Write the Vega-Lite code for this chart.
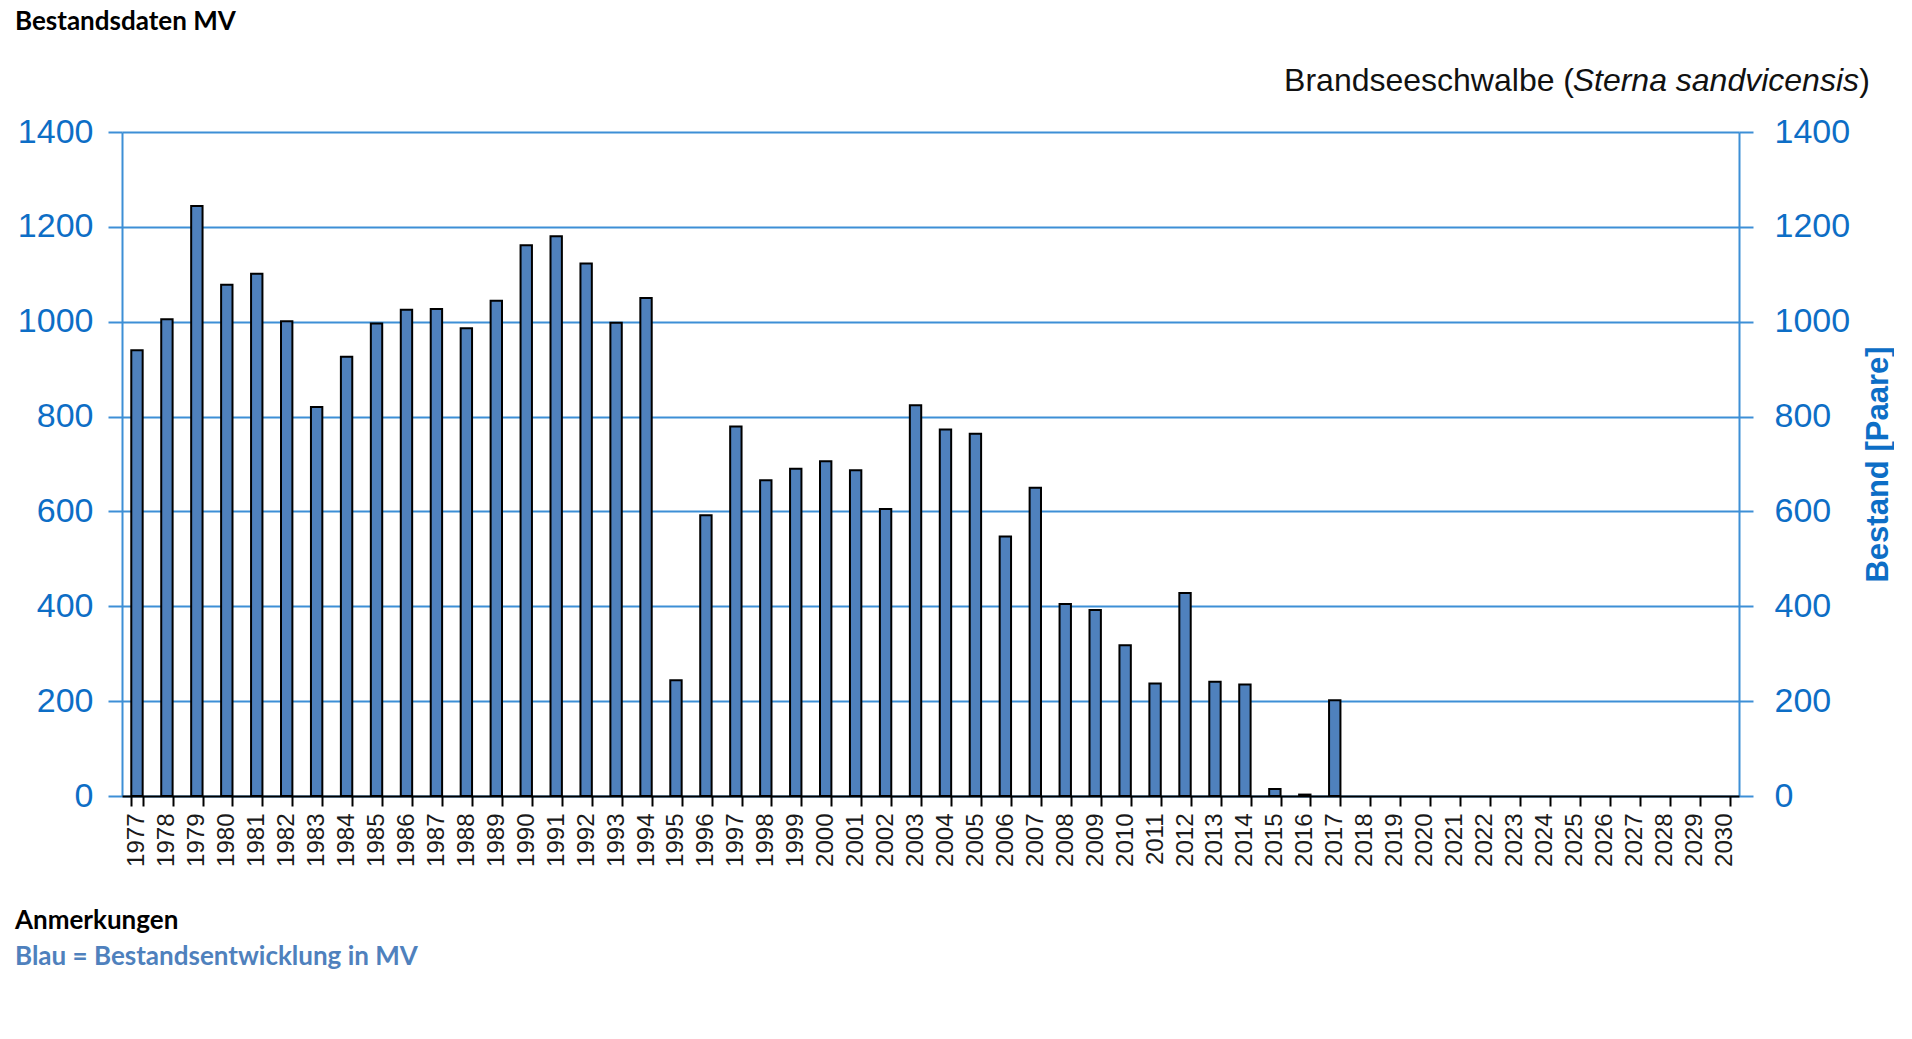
{
  "$schema": "https://vega.github.io/schema/vega-lite/v6.json",
  "background": "white",
  "padding": {"left": 15, "top": 9, "right": 0, "bottom": 0},
  "title": {"text": "Bestandsdaten MV", "anchor": "start", "frame": "bounds", "font": "Lato", "fontSize": 26, "fontWeight": "bold", "color": "#000000", "offset": 30, "dx": 0},
  "config": {"view": {"stroke": null}},
  "spacing": 40,
  "vconcat": [
    {
      "width": 1617,
      "height": 664,
      "data": {"values": [
        {"Jahr": 1977, "Bestand": 940}, {"Jahr": 1978, "Bestand": 1005}, {"Jahr": 1979, "Bestand": 1244},
        {"Jahr": 1980, "Bestand": 1078}, {"Jahr": 1981, "Bestand": 1101}, {"Jahr": 1982, "Bestand": 1001},
        {"Jahr": 1983, "Bestand": 820}, {"Jahr": 1984, "Bestand": 926}, {"Jahr": 1985, "Bestand": 996},
        {"Jahr": 1986, "Bestand": 1025}, {"Jahr": 1987, "Bestand": 1027}, {"Jahr": 1988, "Bestand": 986},
        {"Jahr": 1989, "Bestand": 1044}, {"Jahr": 1990, "Bestand": 1161}, {"Jahr": 1991, "Bestand": 1180},
        {"Jahr": 1992, "Bestand": 1123}, {"Jahr": 1993, "Bestand": 998}, {"Jahr": 1994, "Bestand": 1050},
        {"Jahr": 1995, "Bestand": 244}, {"Jahr": 1996, "Bestand": 592}, {"Jahr": 1997, "Bestand": 779},
        {"Jahr": 1998, "Bestand": 666}, {"Jahr": 1999, "Bestand": 690}, {"Jahr": 2000, "Bestand": 706},
        {"Jahr": 2001, "Bestand": 687}, {"Jahr": 2002, "Bestand": 605}, {"Jahr": 2003, "Bestand": 824},
        {"Jahr": 2004, "Bestand": 773}, {"Jahr": 2005, "Bestand": 764}, {"Jahr": 2006, "Bestand": 547},
        {"Jahr": 2007, "Bestand": 650}, {"Jahr": 2008, "Bestand": 405}, {"Jahr": 2009, "Bestand": 392},
        {"Jahr": 2010, "Bestand": 318}, {"Jahr": 2011, "Bestand": 237}, {"Jahr": 2012, "Bestand": 428},
        {"Jahr": 2013, "Bestand": 241}, {"Jahr": 2014, "Bestand": 235}, {"Jahr": 2015, "Bestand": 15},
        {"Jahr": 2016, "Bestand": 3}, {"Jahr": 2017, "Bestand": 202}
      ]},
      "layer": [
        {
          "layer": [
            {
              "mark": {"type": "bar", "fill": "#4F81BD", "stroke": "#000000", "strokeWidth": 2},
              "encoding": {
                "x": {
                  "field": "Jahr", "type": "ordinal",
                  "scale": {"domain": [1977,1978,1979,1980,1981,1982,1983,1984,1985,1986,1987,1988,1989,1990,1991,1992,1993,1994,1995,1996,1997,1998,1999,2000,2001,2002,2003,2004,2005,2006,2007,2008,2009,2010,2011,2012,2013,2014,2015,2016,2017,2018,2019,2020,2021,2022,2023,2024,2025,2026,2027,2028,2029,2030], "paddingInner": 0.62, "paddingOuter": 0.31},
                  "axis": {"orient": "bottom", "title": null, "labelAngle": -90, "labelFont": "Liberation Sans", "labelFontSize": 24, "labelColor": "#1a1a1a", "labelPadding": 7, "tickBand": "extent", "tickColor": "#000000", "tickSize": 10, "tickWidth": 2, "domainColor": "#000000", "domainWidth": 2, "grid": false, "zindex": 1}
                },
                "y": {
                  "field": "Bestand", "type": "quantitative",
                  "scale": {"domain": [0, 1400], "nice": false},
                  "axis": {"orient": "left", "title": null, "format": "d", "values": [0,200,400,600,800,1000,1200,1400], "grid": true, "gridColor": "#3d8fd6", "gridWidth": 2, "domainColor": "#3d8fd6", "domainWidth": 2, "tickColor": "#3d8fd6", "tickSize": 14, "tickWidth": 2, "labelFont": "Liberation Sans", "labelFontSize": 34, "labelColor": "#0d6ec6", "labelPadding": 15}
                }
              }
            },
            {
              "data": {"values": [{"label": "Brandseeschwalbe ("}]},
              "mark": {"type": "text", "font": "Liberation Sans", "fontSize": 32, "align": "right", "baseline": "middle", "dx": -150, "dy": -51, "color": "#111111"},
              "encoding": {"x": {"datum": 2030, "type": "ordinal"}, "y": {"datum": 1400, "type": "quantitative"}, "text": {"field": "label"}}
            },
            {
              "data": {"values": [{"label": "Sterna sandvicensis"}]},
              "mark": {"type": "text", "font": "Liberation Sans", "fontSize": 32, "fontStyle": "italic", "align": "right", "baseline": "middle", "dx": 135, "dy": -51, "color": "#111111"},
              "encoding": {"x": {"datum": 2030, "type": "ordinal"}, "y": {"datum": 1400, "type": "quantitative"}, "text": {"field": "label"}}
            },
            {
              "data": {"values": [{"label": ")"}]},
              "mark": {"type": "text", "font": "Liberation Sans", "fontSize": 32, "align": "right", "baseline": "middle", "dx": 146, "dy": -51, "color": "#111111"},
              "encoding": {"x": {"datum": 2030, "type": "ordinal"}, "y": {"datum": 1400, "type": "quantitative"}, "text": {"field": "label"}}
            }
          ]
        },
        {
          "mark": {"type": "bar", "opacity": 0},
          "encoding": {
            "x": {"field": "Jahr", "type": "ordinal"},
            "y": {
              "field": "Bestand", "type": "quantitative",
              "scale": {"domain": [0, 1400], "nice": false},
              "axis": {"orient": "right", "title": "Bestand [Paare]", "format": "d", "values": [0,200,400,600,800,1000,1200,1400], "grid": false, "domainColor": "#3d8fd6", "domainWidth": 2, "tickColor": "#3d8fd6", "tickSize": 14, "tickWidth": 2, "labelFont": "Liberation Sans", "labelFontSize": 34, "labelColor": "#0d6ec6", "labelPadding": 21, "titleFont": "Liberation Sans", "titleFontSize": 31, "titleFontWeight": "bold", "titleColor": "#0d6ec6", "titleAngle": 270, "titleBaseline": "top", "titlePadding": 14}
            }
          }
        }
      ],
      "resolve": {"scale": {"y": "independent"}}
    },
    {
      "width": 1,
      "height": 1,
      "data": {"values": [{"label": ""}]},
      "mark": {"type": "text"},
      "encoding": {"text": {"field": "label"}},
      "title": {"text": "Anmerkungen", "subtitle": "Blau = Bestandsentwicklung in MV", "anchor": "start", "frame": "group", "dx": -107, "font": "Lato", "fontSize": 26, "fontWeight": "bold", "color": "#000000", "subtitleFont": "Lato", "subtitleFontSize": 26, "subtitleFontWeight": "bold", "subtitleColor": "#4F81BD", "subtitlePadding": 10}
    }
  ]
}
